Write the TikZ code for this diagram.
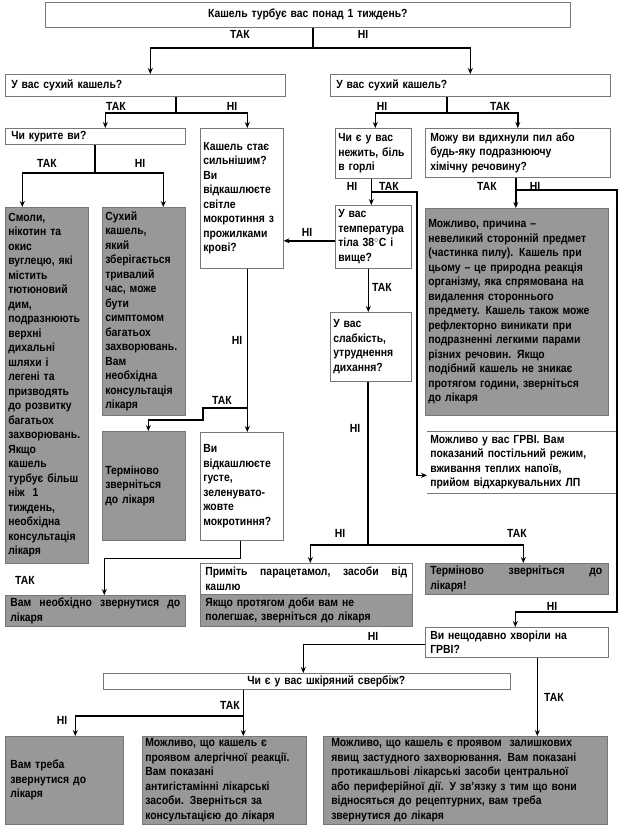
\documentclass[tikz,border=0pt]{standalone}
\usepackage{fontspec}
\setmainfont{Liberation Sans}[FakeStretch=0.88]
\usetikzlibrary{arrows.meta}

\definecolor{boxgray}{RGB}{152,152,152}
\definecolor{edgegray}{RGB}{120,120,120}

\tikzset{
  box/.style={draw=edgegray, line width=0.6pt, anchor=north west, inner xsep=3pt, inner ysep=1pt,
    align=left, font=\fontsize{11.8}{14.5}\selectfont\bfseries},
  qbox/.style={box, fill=white},
  abox/.style={box, fill=boxgray},
  lbl/.style={font=\fontsize{11.8}{14}\selectfont\bfseries, inner sep=0pt},
  stem/.style={line width=1.4pt},
  link/.style={line width=1.4pt, -{Stealth[length=6pt,width=5pt]}},
}

\begin{document}
\begin{tikzpicture}[x=1pt,y=-1pt]
\useasboundingbox (0,0) rectangle (623,835);

% Питання верхнього рівня
\node[qbox, align=center, minimum width=525pt, minimum height=25pt, text width=519pt] (week) at (45,2) {Кашель турбує вас понад 1 тиждень?};
\node[qbox, minimum width=280pt, minimum height=22pt, text width=274pt] (dryL) at (5,74) {\hspace*{3pt}У вас сухий кашель?};
\node[qbox, minimum width=280pt, minimum height=22pt, text width=274pt] (dryR) at (330,74) {\hspace*{3pt}У вас сухий кашель?};

% Ліва гілка
\node[qbox, minimum width=180pt, minimum height=16pt, text width=174pt] (smoke) at (5,128) {\hspace*{3pt}Чи курите ви?};
\node[qbox, minimum width=83pt, minimum height=140pt, text width=77pt] (worse) at (200,128) {Кашель стає\\ сильнішим?\\ Ви\\ відкашлюєте\\ світле\\ мокротиння з\\ прожилками\\ крові?};
\node[abox, minimum width=83pt, minimum height=356pt, text width=77pt] (tar) at (5,207) {Смоли,\\ нікотин та\\ окис\\ вуглецю, які\\ містить\\ тютюновий\\ дим,\\ подразнюють\\ верхні\\ дихальні\\ шляхи і\\ легені та\\ призводять\\ до розвитку\\ багатьох\\ захворювань.\\ Якщо\\ кашель\\ турбує більш\\ ніж\ \ 1\\ тиждень,\\ необхідна\\ консультація\\ лікаря};
\node[abox, minimum width=83pt, minimum height=208pt, text width=77pt] (dryinfo) at (102,207) {Сухий\\ кашель,\\ який\\ зберігається\\ тривалий\\ час, може\\ бути\\ симптомом\\ багатьох\\ захворювань.\\ Вам\\ необхідна\\ консультація\\ лікаря};
\node[abox, minimum width=83pt, minimum height=109pt, text width=77pt] (urgentA) at (102,431) {Терміново\\ зверніться\\ до лікаря};
\node[qbox, minimum width=83pt, minimum height=108pt, text width=77pt] (green) at (200,432) {Ви\\ відкашлюєте\\ густе,\\ зеленувато-\\ жовте\\ мокротиння?};
\node[abox, minimum width=180pt, minimum height=31pt, text width=174pt] (seeDoc) at (5,595) {\hspace*{2pt}\hbox to 170pt{Вам\hfill необхідно\hfill звернутися\hfill до}\\ \hspace*{2pt}лікаря};

% Права гілка
\node[qbox, minimum width=76pt, minimum height=50pt, text width=70pt] (cold) at (335,128) {Чи є у вас\\ нежить, біль\\ в горлі};
\node[qbox, minimum width=185pt, minimum height=49pt, text width=179pt] (dust) at (425,128) {\hspace*{2pt}Можу ви вдихнули пил або\\ \hspace*{2pt}будь-яку подразнюючу\\ \hspace*{2pt}хімічну речовину?};
\node[qbox, minimum width=76pt, minimum height=63pt, text width=70pt] (temp) at (335,205) {У вас\\ температура\\ тіла 38$^{\circ}$C і\\ вище?};
\node[abox, minimum width=183pt, minimum height=207pt, text width=177pt] (foreign) at (425,208) {Можливо, причина –\\ невеликий сторонній предмет\\ (частинка пилу). Кашель при\\ цьому – це природна реакція\\ організму, яка спрямована на\\ видалення стороннього\\ предмету. Кашель також може\\ рефлекторно виникати при\\ подразненні легкими парами\\ різних речовин. Якщо\\ подібний кашель не зникає\\ протягом години, зверніться\\ до лікаря};
\node[qbox, minimum width=81pt, minimum height=69pt, text width=75pt] (weak) at (330,312) {У вас\\ слабкість,\\ утруднення\\ дихання?};
\node[box, draw=none, minimum width=190pt, minimum height=62pt, text width=184pt] (arvi) at (427,431) {Можливо у вас ГРВІ. Вам\\ показаний постільний режим,\\ вживання теплих напоїв,\\ прийом відхаркувальних ЛП};
\draw[edgegray, line width=0.8pt] (arvi.north west) -- (arvi.north east);
\draw[edgegray, line width=0.8pt] (arvi.south west) -- (arvi.south east);
\node[qbox, minimum width=212pt, minimum height=31pt, text width=206pt] (para) at (200,563) {\hspace*{2pt}\hbox to 202pt{Приміть\hfill парацетамол,\hfill засоби\hfill від}\\ \hspace*{2pt}кашлю};
\node[abox, minimum width=212pt, minimum height=32pt, text width=206pt] (paraDoc) at (200,594) {\hspace*{2pt}Якщо протягом доби вам не\\ \hspace*{2pt}полегшає, зверніться до лікаря};
\node[abox, minimum width=183pt, minimum height=31pt, text width=177pt] (urgentB) at (425,563) {\hspace*{2pt}\hbox to 172pt{Терміново\hfill зверніться\hfill до}\\ \hspace*{2pt}лікаря!};
\node[qbox, minimum width=183pt, minimum height=30pt, text width=177pt] (recent) at (425,627) {\hspace*{2pt}Ви нещодавно хворіли на\\ \hspace*{2pt}ГРВІ?};

% Нижній рівень
\node[qbox, minimum width=407pt, minimum height=16pt, text width=401pt] (itch) at (103,673) {\hspace*{141pt}Чи є у вас шкіряний свербіж?};
\node[abox, minimum width=118pt, minimum height=88pt, text width=112pt] (seeDocB) at (5,736) {\hspace*{2pt}Вам треба\\ \hspace*{2pt}звернутися до\\ \hspace*{2pt}лікаря};
\node[abox, minimum width=164pt, minimum height=88pt, text width=158pt] (allergy) at (142,736) {Можливо, що кашель є\\ проявом алергічної реакції.\\ Вам показані\\ антигістамінні лікарські\\ засоби. Зверніться за\\ консультацією до лікаря};
\node[abox, minimum width=284pt, minimum height=88pt, text width=278pt] (resid) at (323,736) {\hspace*{5pt}Можливо, що кашель є проявом\ \ залишкових\\ \hspace*{5pt}явищ застудного захворювання. Вам показані\\ \hspace*{5pt}протикашльові лікарські засоби центральної\\ \hspace*{5pt}або периферійної дії. У зв'язку з тим що вони\\ \hspace*{5pt}відносяться до рецептурних, вам треба\\ \hspace*{5pt}звернутися до лікаря};

% Зв'язки
\coordinate (j1) at (313,48);
\draw[stem] (week.south -| j1) -- (j1);
\draw[link] (j1) -| ([xshift=5pt]dryL.north);
\draw[link] (j1) -| (dryR.north);

\coordinate (j2) at (176,113);
\draw[stem] (dryL.south -| j2) -- (j2);
\draw[link] (j2) -| ([xshift=10pt]smoke.north);
\draw[link] (j2) -| ([xshift=5.5pt]worse.north);

\coordinate (j3) at (447,113);
\draw[stem] (dryR.south -| j3) -- (j3);
\draw[link] (j3) -| ([xshift=2pt]cold.north);
\draw[link] (j3) -| (dust.north);

\coordinate (j4) at (95,173);
\draw[stem] (smoke.south -| j4) -- (j4);
\draw[link] (j4) -| ([xshift=-24.5pt]tar.north);
\draw[link] (j4) -| ([xshift=19.5pt]dryinfo.north);

\draw[link] ([xshift=5.5pt]worse.south) -- ([xshift=5.5pt]green.north);
\coordinate (j5) at (247,408);
\draw[link] (j5) -- ++(-44,0) -- ++(0,12) -| ([xshift=4.5pt]urgentA.north);

\draw[link] ([xshift=-2pt]cold.south) -- ([xshift=-2pt]cold.south |- temp.north);
\coordinate (j6) at (371,192);
\draw[link] (j6) -- ++(46,0) |- ([yshift=-13pt]arvi.west);

\draw[link] ([yshift=-4pt]temp.west) -- ([yshift=-4pt]temp.west -| worse.east);
\draw[link] ([xshift=-5pt]temp.south) -- ([xshift=-5pt]temp.south |- weak.north);

\coordinate (j7) at (368,545);
\draw[stem] (weak.south -| j7) -- (j7);
\draw[link] (j7) -| ([xshift=4pt]para.north);
\draw[link] (j7) -| ([xshift=6.5pt]urgentB.north);

\draw[link] ([xshift=-2pt]dust.south) -- ([xshift=-2pt]dust.south |- foreign.north);
\coordinate (j8) at (515,190);
\draw[link] (j8) -- ++(102,0) -- ++(0,422) -| ([xshift=-1.5pt]recent.north);

\draw[link] ([xshift=-1.5pt]green.south) -- ++(0,18) -| ([xshift=9pt]seeDoc.north);

\draw[link] ([yshift=-2pt]recent.west) -| ([xshift=-3.5pt]itch.north);
\draw[link] ([xshift=20.5pt]recent.south) -- ([xshift=20.5pt]recent.south |- resid.north);

\coordinate (j9) at (243,716);
\draw[link] ([xshift=-63.5pt]itch.south) -- ([xshift=-63.5pt]itch.south |- allergy.north);
\draw[link] (j9) -| ([xshift=11pt]seeDocB.north);

% Підписи
\node[lbl] (yes1) at (240,34) {ТАК};
\node[lbl] (no1) at (363,34) {НІ};
\node[lbl] (yes2) at (116,106) {ТАК};
\node[lbl] (no2) at (232,106) {НІ};
\node[lbl] (no3) at (382,106) {НІ};
\node[lbl] (yes3) at (500,106) {ТАК};
\node[lbl] (yes4) at (47,163) {ТАК};
\node[lbl] (no4) at (140,163) {НІ};
\node[lbl] (no5) at (352,186) {НІ};
\node[lbl] (yes5) at (389,186) {ТАК};
\node[lbl] (yes6) at (487,186) {ТАК};
\node[lbl] (no6) at (535,186) {НІ};
\node[lbl] (no7) at (307,232) {НІ};
\node[lbl] (yes7) at (382,287) {ТАК};
\node[lbl] (no8) at (237,340) {НІ};
\node[lbl] (yes8) at (222,400) {ТАК};
\node[lbl] (no9) at (355,428) {НІ};
\node[lbl] (no10) at (340,533) {НІ};
\node[lbl] (yes10) at (517,533) {ТАК};
\node[lbl] (yes11) at (25,580) {ТАК};
\node[lbl] (no11) at (552,606) {НІ};
\node[lbl] (no12) at (373,636) {НІ};
\node[lbl] (yes12) at (554,697) {ТАК};
\node[lbl] (yes13) at (230,705) {ТАК};
\node[lbl] (no13) at (62,720) {НІ};

\end{tikzpicture}
\end{document}
